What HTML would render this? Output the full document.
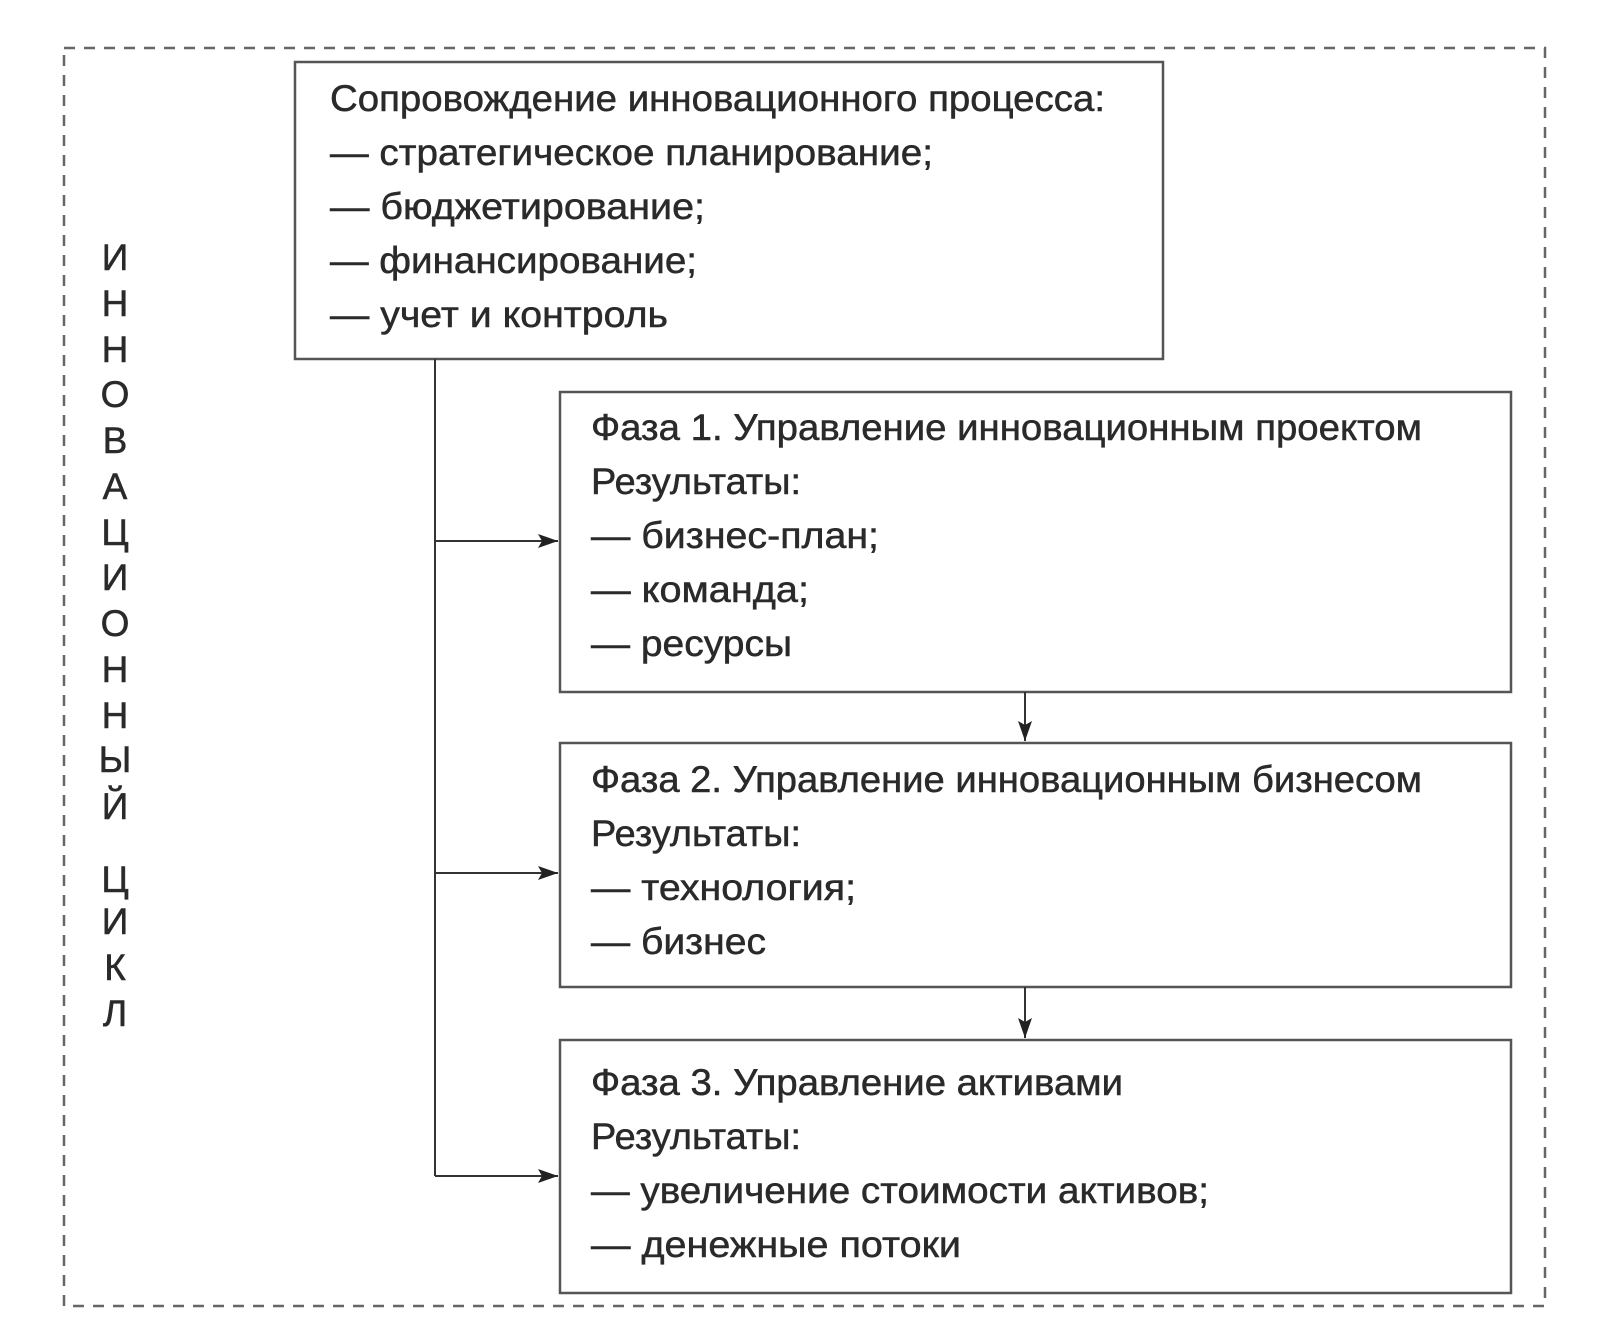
<!DOCTYPE html>
<html><head><meta charset="utf-8"><style>
html,body{margin:0;padding:0;background:#fff;}
svg{display:block;}
text{font-family:"Liberation Sans",sans-serif;fill:#2a2a2a;font-size:37px;stroke:#2a2a2a;stroke-width:0.5px;}
</style></head><body>
<svg width="1599" height="1335" viewBox="0 0 1599 1335" xmlns="http://www.w3.org/2000/svg">
<defs>
<marker id="b" viewBox="0 0 20 14" markerWidth="20" markerHeight="14" refX="20" refY="7" orient="auto" markerUnits="userSpaceOnUse"><path d="M0,0 L20,7 L0,14 L4,7 Z" fill="#222"/></marker></defs>
<rect x="64" y="48" width="1481" height="1258" fill="none" stroke="#666" stroke-width="2.5" stroke-dasharray="11,9"/>
<g fill="#fff" stroke="#555" stroke-width="2.5">
<rect x="295" y="62" width="868" height="297"/>
<rect x="560" y="392" width="951" height="300"/>
<rect x="560" y="743" width="951" height="244"/>
<rect x="560" y="1040" width="951" height="253"/>
</g>
<g stroke="#333" stroke-width="2" fill="none">
<path d="M435,359 V1176"/>
<path d="M435,541 H558" marker-end="url(#b)"/>
<path d="M435,873 H558" marker-end="url(#b)"/>
<path d="M435,1176 H558" marker-end="url(#b)"/>
<path d="M1025,692 V741" marker-end="url(#b)"/>
<path d="M1025,987 V1038" marker-end="url(#b)"/>
</g>
<g>
<text x="330" y="111" textLength="775" lengthAdjust="spacingAndGlyphs">Сопровождение инновационного процесса:</text>
<text x="330" y="165" textLength="603" lengthAdjust="spacingAndGlyphs">— стратегическое планирование;</text>
<text x="330" y="219" textLength="375" lengthAdjust="spacingAndGlyphs">— бюджетирование;</text>
<text x="330" y="273" textLength="367" lengthAdjust="spacingAndGlyphs">— финансирование;</text>
<text x="330" y="327" textLength="338" lengthAdjust="spacingAndGlyphs">— учет и контроль</text>

<text x="591" y="440" textLength="831" lengthAdjust="spacingAndGlyphs">Фаза 1. Управление инновационным проектом</text>
<text x="591" y="494" textLength="210" lengthAdjust="spacingAndGlyphs">Результаты:</text>
<text x="591" y="548" textLength="288" lengthAdjust="spacingAndGlyphs">— бизнес-план;</text>
<text x="591" y="602" textLength="218" lengthAdjust="spacingAndGlyphs">— команда;</text>
<text x="591" y="656" textLength="201" lengthAdjust="spacingAndGlyphs">— ресурсы</text>

<text x="591" y="792" textLength="831" lengthAdjust="spacingAndGlyphs">Фаза 2. Управление инновационным бизнесом</text>
<text x="591" y="846" textLength="210" lengthAdjust="spacingAndGlyphs">Результаты:</text>
<text x="591" y="900" textLength="265" lengthAdjust="spacingAndGlyphs">— технология;</text>
<text x="591" y="954" textLength="175" lengthAdjust="spacingAndGlyphs">— бизнес</text>

<text x="591" y="1095" textLength="532" lengthAdjust="spacingAndGlyphs">Фаза 3. Управление активами</text>
<text x="591" y="1149" textLength="210" lengthAdjust="spacingAndGlyphs">Результаты:</text>
<text x="591" y="1203" textLength="618" lengthAdjust="spacingAndGlyphs">— увеличение стоимости активов;</text>
<text x="591" y="1257" textLength="370" lengthAdjust="spacingAndGlyphs">— денежные потоки</text>
</g>
<g text-anchor="middle" style="font-size:36px;stroke-width:1.6px">
<text x="115" y="270">И</text><text x="115" y="316">Н</text><text x="115" y="362">Н</text><text x="115" y="407">О</text><text x="115" y="453">В</text><text x="115" y="499">А</text><text x="115" y="545">Ц</text><text x="115" y="590">И</text><text x="115" y="636">О</text><text x="115" y="682">Н</text><text x="115" y="728">Н</text><text x="115" y="772">Ы</text><text x="115" y="819">Й</text><text x="115" y="892">Ц</text><text x="115" y="934">И</text><text x="115" y="980">К</text><text x="115" y="1026">Л</text>
</g>
</svg>
</body></html>
